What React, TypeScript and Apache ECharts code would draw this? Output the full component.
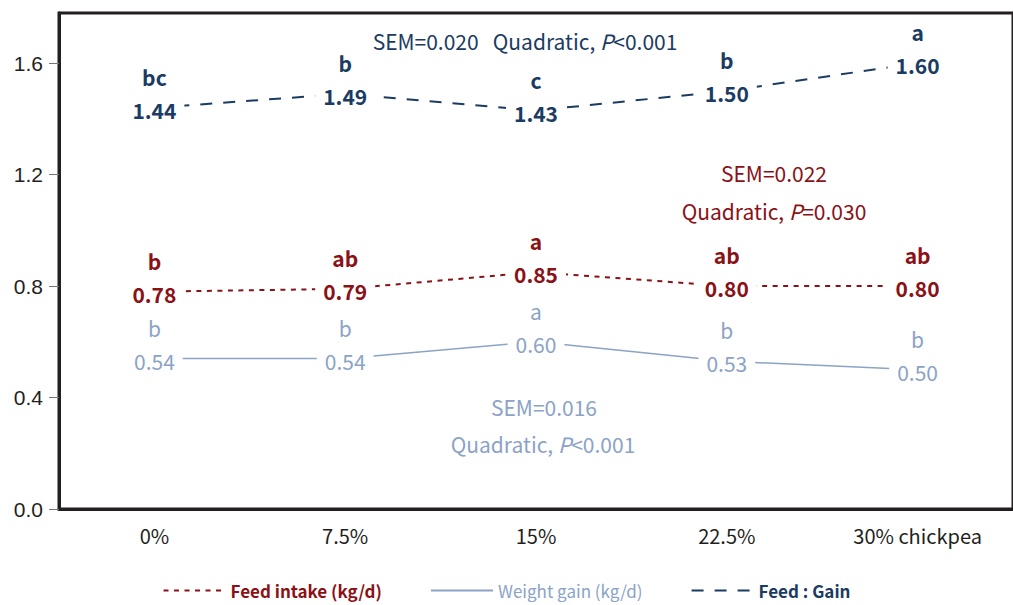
import React, { useEffect, useRef } from "react";
import * as echarts from "echarts";

const categories = ["0%", "7.5%", "15%", "22.5%", "30% chickpea"];
const feedIntake = [0.78, 0.79, 0.85, 0.8, 0.8];
const weightGain = [0.54, 0.54, 0.6, 0.53, 0.5];
const feedGain = [1.44, 1.49, 1.43, 1.5, 1.6];
const feedIntakeLetters = ["b", "ab", "a", "ab", "ab"];
const weightGainLetters = ["b", "b", "a", "b", "b"];
const feedGainLetters = ["bc", "b", "c", "b", "a"];
const yTicks = [0, 0.4, 0.8, 1.2, 1.6];

const RED = "#8a1116";
const LIGHT = "#8ba3c6";
const NAVY = "#1a3b62";
const DARK = "#231f20";
const FONT = '"Noto Sans CJK KR", "Noto Sans", sans-serif';

function valueSeries(name: string, data: number[], color: string, lineType: any, width: number, bold: boolean) {
  return {
    name,
    type: "line",
    data,
    symbol: "circle",
    symbolSize: 1,
    itemStyle: { color: "rgba(0,0,0,0)" },
    lineStyle: { color, type: lineType, width },
    z: 3,
    label: {
      show: true,
      position: "inside",
      offset: [0, 2],
      formatter: (p: any) => Number(p.value).toFixed(2),
      color,
      fontFamily: FONT,
      fontSize: 21,
      fontWeight: bold ? "bold" : "normal",
      backgroundColor: "#fff",
      padding: [0, 8],
    },
  };
}

function letterSeries(name: string, data: number[], letters: string[], color: string, bold: boolean) {
  return {
    name,
    type: "line",
    data,
    symbol: "circle",
    symbolSize: 1,
    silent: true,
    itemStyle: { color: "rgba(0,0,0,0)" },
    lineStyle: { width: 0, opacity: 0 },
    z: 4,
    label: {
      show: true,
      position: "inside",
      offset: [0, -31],
      formatter: (p: any) => letters[p.dataIndex],
      color,
      fontFamily: FONT,
      fontSize: 21,
      fontWeight: bold ? "bold" : "normal",
    },
  };
}

function annot(x: number, y: number, parts: [string, boolean][], color: string) {
  const text = parts.map(([t, it]) => `{${it ? "i" : "n"}|${t}}`).join("");
  return {
    type: "text",
    x,
    y,
    z: 10,
    style: {
      text,
      fill: color,
      align: "center",
      verticalAlign: "middle",
      fontFamily: FONT,
      fontSize: 21,
      rich: {
        n: { fontFamily: FONT, fontSize: 21, fill: color, color },
        i: { fontFamily: FONT, fontSize: 21, fill: color, color, fontStyle: "italic" },
      },
    },
  };
}

export default function App() {
  const ref = useRef<HTMLDivElement>(null);
  useEffect(() => {
    document.body.style.margin = "0";
    const chart = echarts.init(ref.current!, undefined, { renderer: "svg" });
    chart.setOption({
      animation: false,
      backgroundColor: "#fff",
      grid: {
        left: 59,
        top: 13,
        bottom: 96,
        right: -11,
        show: true,
        borderColor: DARK,
        borderWidth: 3,
        backgroundColor: "transparent",
      },
      xAxis: {
        type: "category",
        data: categories,
        boundaryGap: true,
        axisLine: { lineStyle: { color: DARK, width: 3 } },
        axisTick: { show: false },
        axisLabel: { color: DARK, fontFamily: FONT, fontSize: 20, margin: 16 },
      },
      yAxis: {
        type: "value",
        min: 0,
        max: 1.78,
        interval: 0.4,
        splitLine: { show: false },
        axisLine: { show: true, lineStyle: { color: DARK, width: 3 } },
        axisTick: { show: true, length: 10, lineStyle: { color: "#777", width: 1 }, customValues: yTicks },
        axisLabel: {
          customValues: yTicks,
          color: DARK,
          fontFamily: '"Liberation Sans", Arial, sans-serif',
          fontSize: 21,
          margin: 16,
          formatter: (v: number) => (yTicks.some((t) => Math.abs(t - v) < 1e-6) ? v.toFixed(1) : ""),
        },
      },
      legend: {
        data: [
          { name: "Feed intake (kg/d)", textStyle: { color: RED, fontWeight: "bold" } },
          { name: "Weight gain (kg/d)", textStyle: { color: LIGHT, fontWeight: "normal" } },
          { name: "Feed : Gain", textStyle: { color: NAVY, fontWeight: "bold" } },
        ],
        left: "center",
        top: 577,
        itemWidth: 62,
        itemHeight: 14,
        itemGap: 48,
        textStyle: { fontFamily: FONT, fontSize: 17 },
      },
      series: [
        valueSeries("Feed intake (kg/d)", feedIntake, RED, [5, 5.5], 2, true),
        valueSeries("Weight gain (kg/d)", weightGain, LIGHT, "solid", 1.5, false),
        valueSeries("Feed : Gain", feedGain, NAVY, [12, 11], 2, true),
        letterSeries("fi-letters", feedIntake, feedIntakeLetters, RED, true),
        letterSeries("wg-letters", weightGain, weightGainLetters, LIGHT, false),
        letterSeries("fg-letters", feedGain, feedGainLetters, NAVY, true),
      ],
      graphic: [
        annot(525, 41, [["SEM=0.020   Quadratic, ", false], ["P", true], ["<0.001", false]], NAVY),
        annot(774, 173, [["SEM=0.022", false]], RED),
        annot(774, 211, [["Quadratic, ", false], ["P", true], ["=0.030", false]], RED),
        annot(544, 407, [["SEM=0.016", false]], LIGHT),
        annot(543, 444, [["Quadratic, ", false], ["P", true], ["<0.001", false]], LIGHT),
      ],
    });
    return () => chart.dispose();
  }, []);
  return <div ref={ref} style={{ width: 1013, height: 605 }} />;
}
